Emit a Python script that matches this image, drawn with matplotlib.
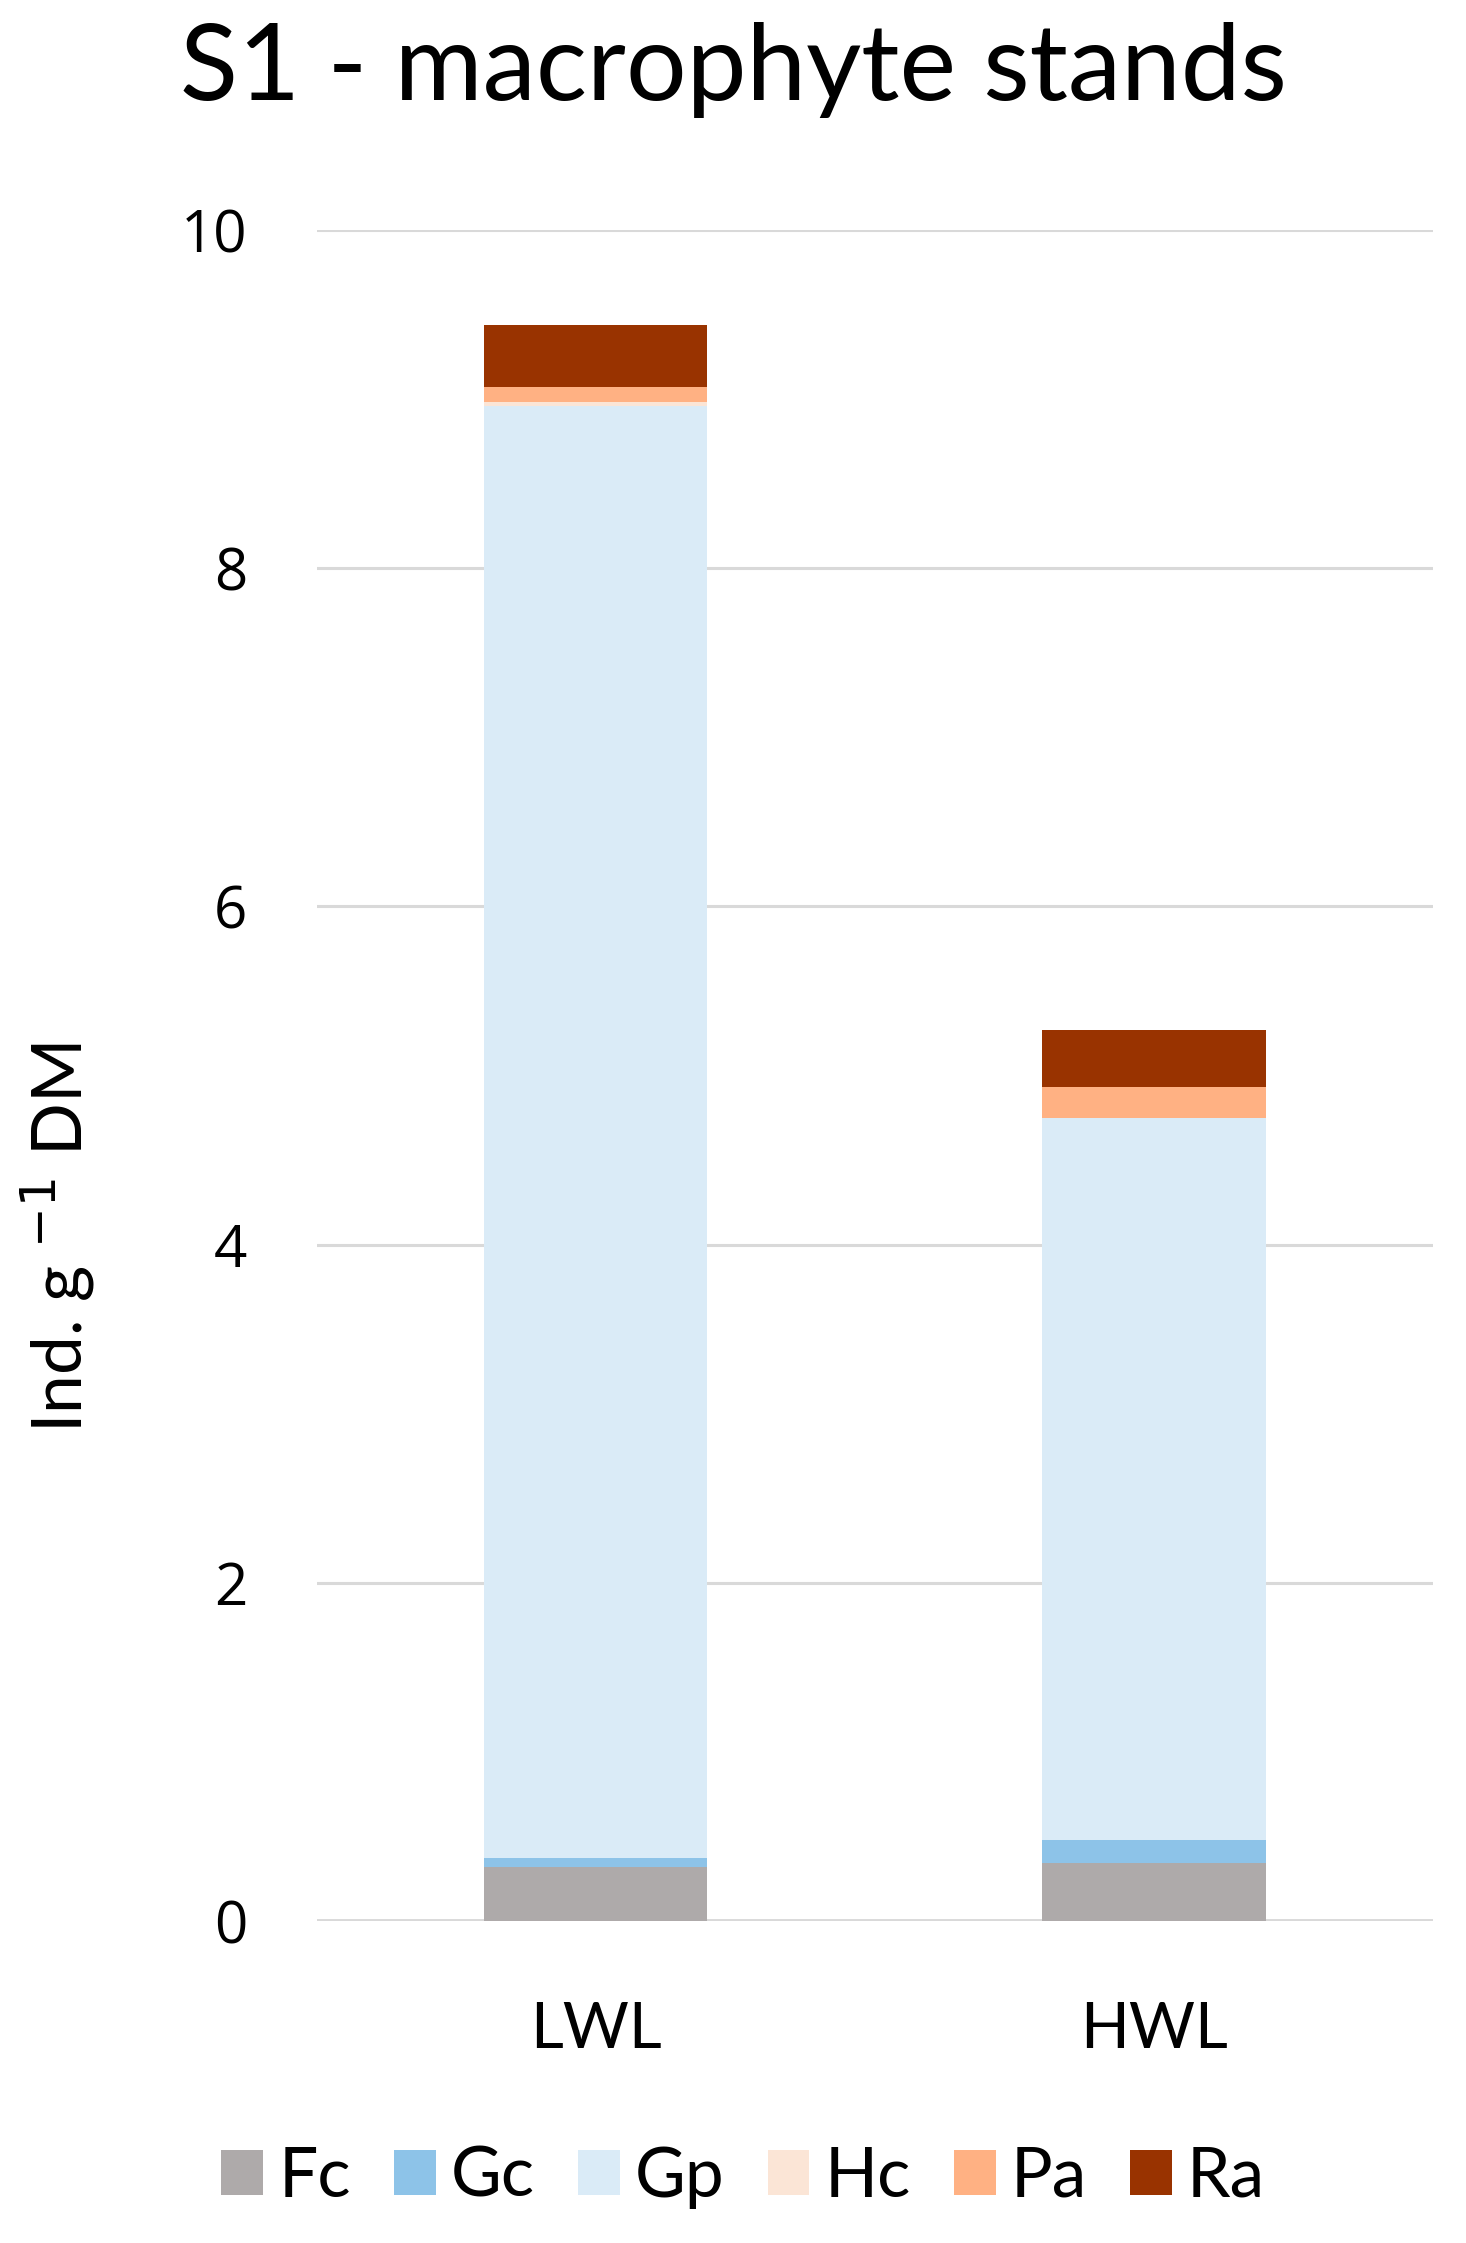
import matplotlib
matplotlib.use("Agg")
import matplotlib.pyplot as plt
import numpy as np

plt.rcParams['font.family'] = ['Lato', 'DejaVu Sans']

# stacked values, Ind. g-1 DM
sites = ['LWL', 'HWL']
taxa = ['Fc', 'Gc', 'Gp', 'Hc', 'Pa', 'Ra']
Fc = [0.32, 0.34]
Gc = [0.05, 0.14]
Gp = [8.59, 4.27]
Hc = [0.02, 0.0]
Pa = [0.09, 0.18]
Ra = [0.37, 0.34]
colours = ['#AEAAAA', '#8DC3E8', '#DAEBF7', '#FBE5D6', '#FFB183', '#993300']

fig = plt.figure(figsize=(14.66, 22.43), dpi=100)
ax = fig.add_axes([0.216, 0.1436, 0.7615, 0.7539])

x = np.arange(len(sites))
bottom = np.zeros(len(sites))
for name, vals, col in zip(taxa, [Fc, Gc, Gp, Hc, Pa, Ra], colours):
    ax.bar(x, vals, 0.4, bottom=bottom, color=col, label=name, zorder=3)
    bottom += np.array(vals)

ax.set_xlim(-0.5, 1.5)
ax.set_ylim(0, 10)
ax.set_yticks([0, 2, 4, 6, 8, 10])
ax.set_xticks(x)
ax.set_xticklabels(sites)
ax.yaxis.grid(True, color='#D9D9D9', linewidth=2.2, zorder=0)
ax.axhline(0, color='#D9D9D9', linewidth=3.5, zorder=2)
for s in ax.spines.values():
    s.set_visible(False)
ax.tick_params(axis='y', length=0, labelsize=42, pad=50)
ax.tick_params(axis='x', length=0, labelsize=46, pad=58)
for t in ax.get_yticklabels():
    t.set_fontfamily(['Open Sans', 'DejaVu Sans'])

ax.set_ylabel(r'Ind. g $^{-1}$ DM', fontsize=50)
ax.yaxis.set_label_coords(-0.197, 0.404)

fig.text(0.5, 0.969, 'S1 - macrophyte stands', fontsize=77,
         ha='center', va='center')

fig.legend(loc='center', bbox_to_anchor=(0.507, 0.0294), ncol=6,
           frameon=False, fontsize=50, handlelength=0.6, handleheight=0.62,
           handletextpad=0.22, columnspacing=0.62)

fig.savefig('out.png', dpi=100)
